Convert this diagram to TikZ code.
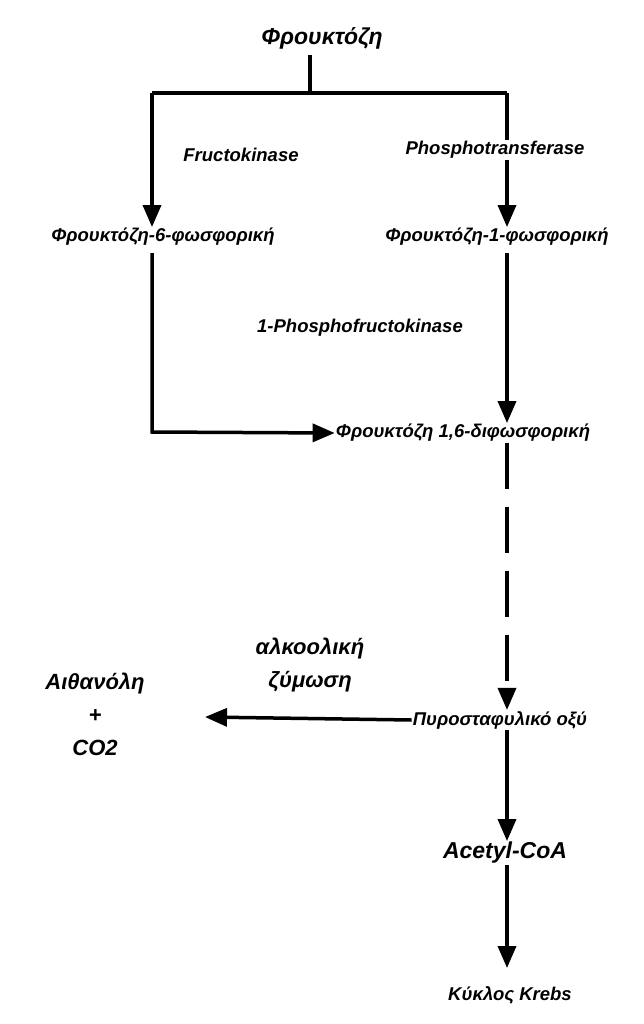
\documentclass[tikz,border=0pt]{standalone}
\usepackage{fontspec}
\setmainfont{Liberation Sans}
\usetikzlibrary{arrows.meta}
\begin{document}
\begin{tikzpicture}[x=1pt,y=-1pt,
  ln/.style={line width=3.5pt},
  ar/.style={ln,-{Triangle[length=22pt,width=18pt]}},
  lb/.style={font=\bfseries\itshape\fontsize{18.5}{22}\selectfont,inner sep=1pt},
  big/.style={font=\bfseries\itshape\fontsize{23}{26}\selectfont,inner sep=1pt},
  ml/.style={font=\bfseries\itshape\fontsize{22}{33}\selectfont,align=center,inner sep=1pt}]
\useasboundingbox (0,0) rectangle (644,1024);
\node[big] (fr) at (322,38) {Φρουκτόζη};
\coordinate (top) at (310,55);
\coordinate (j) at (310,93);
\coordinate (l) at (152,93);
\coordinate (r) at (507,93);
\draw[ln] (top) -- (j);
\draw[ln] (l) -- (r);
\node[lb] (f6) at (163,237) {Φρουκτόζη-6-φωσφορική};
\node[lb] (f1) at (497,237) {Φρουκτόζη-1-φωσφορική};
\draw[ar] (l) -- (l|-f6.north);
\node[lb,fill=white] (pt) at (495,150) {Phosphotransferase};
\draw[ln] (r) -- (r|-pt.north);
\draw[ar] (r|-pt.south) -- (r|-f1.north);
\node[lb] (fk) at (241,155) {Fructokinase};
\node[lb] (f16) at (463,433) {Φρουκτόζη 1,6-διφωσφορική};
\node[lb] (pfk) at (360,328) {1-Phosphofructokinase};
\coordinate (c) at (152,432);
\coordinate (rx) at (507,0);
\draw[ar] (152,253) -- (c) -- (f16.west);
\draw[ar] (507,253) -- (rx|-f16.north);
\node[lb] (py) at (500,720) {Πυροσταφυλικό οξύ};
\draw[ar,dash pattern=on 46pt off 18pt] (rx|-f16.south) -- (rx|-py.north);
\node[ml] (az) at (310,665) {αλκοολική\\ζύμωση};
\node[ml] (et) at (95,714) {Αιθανόλη\\+\\CO2};
\draw[ar] (py.west) -- (205,717);
\node[big] (ac) at (505,853) {Acetyl-CoA};
\node[lb] (kr) at (510,995) {Κύκλος Krebs};
\draw[ar] (rx|-py.south) -- (rx|-ac.north);
\draw[ar] (rx|-ac.south) -- (507,968);
\end{tikzpicture}
\end{document}
